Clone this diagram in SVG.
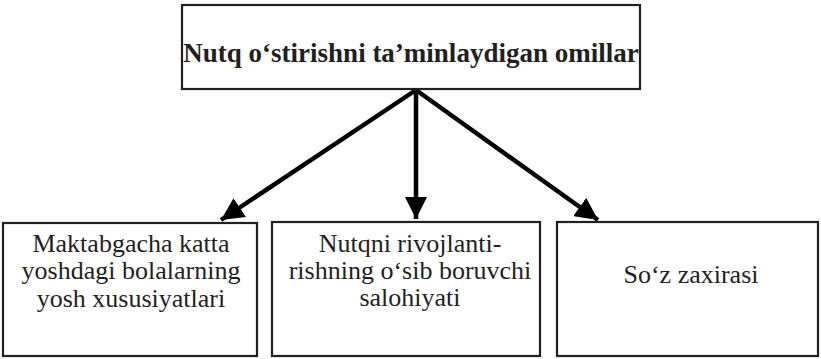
<svg xmlns="http://www.w3.org/2000/svg" width="821" height="359" viewBox="0 0 821 359">
<style>
.box{fill:#fff;stroke:#231f20;stroke-width:2.2}
text{font-family:'Liberation Serif','Times New Roman',Times,serif;fill:#231f20;text-anchor:middle}
.b{font-weight:bold;font-size:27px}
.r{font-size:26px}
.c{stroke:#000;stroke-width:4.5;fill:none}
</style>
<defs>
<marker id="ah" viewBox="0 0 10 10" refX="10" refY="5" markerWidth="5" markerHeight="5" markerUnits="strokeWidth" orient="auto">
<path d="M0,0 L10,5 L0,10 z" fill="#000"/>
</marker>
</defs>
<rect width="821" height="359" fill="#fff"/>
<g id="connectors">
<line class="c" x1="416" y1="90" x2="221" y2="220" marker-end="url(#ah)"/>
<line class="c" x1="416" y1="90" x2="416" y2="219" marker-end="url(#ah)"/>
<line class="c" x1="416" y1="90" x2="598" y2="220" marker-end="url(#ah)"/>
</g>
<g id="top">
<rect class="box" x="182" y="5" width="458" height="84"/>
<text class="b" x="411" y="62">Nutq o‘stirishni ta’minlaydigan omillar</text>
</g>
<g id="n1">
<rect class="box" x="3" y="223" width="254" height="133"/>
<text class="r" x="131" y="252">Maktabgacha katta</text>
<text class="r" x="131" y="279">yoshdagi bolalarning</text>
<text class="r" x="131" y="307">yosh xususiyatlari</text>
</g>
<g id="n2">
<rect class="box" x="272" y="222" width="268" height="134"/>
<text class="r" x="410" y="252">Nutqni rivojlanti-</text>
<text class="r" x="410" y="279">rishning o‘sib boruvchi</text>
<text class="r" x="410" y="306">salohiyati</text>
</g>
<g id="n3">
<rect class="box" x="557" y="222" width="261" height="134"/>
<text class="r" x="691" y="283">So‘z zaxirasi</text>
</g>
</svg>
